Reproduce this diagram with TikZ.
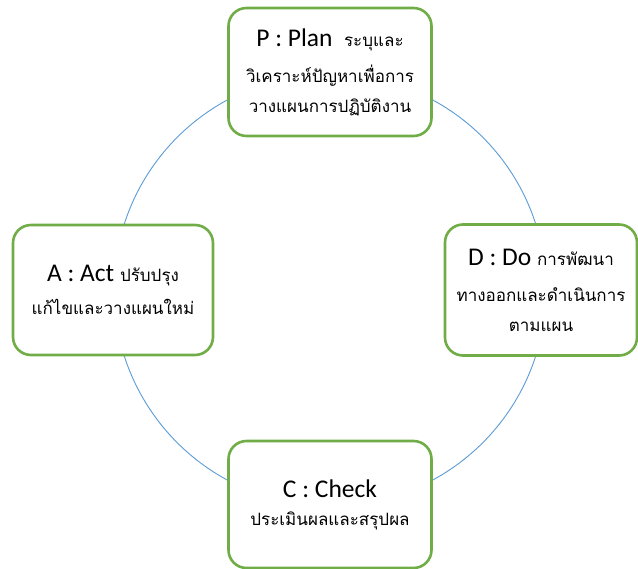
\documentclass[tikz,border=0pt]{standalone}
\usepackage{fontspec}
\setmainfont{Carlito}
\newfontfamily\thaifont[Script=Thai]{Loma}
\usetikzlibrary{positioning}
\definecolor{pdcagreen}{HTML}{70AD47}
\definecolor{pdcablue}{HTML}{5B9BD5}
\newcommand{\thtext}[1]{{\thaifont\fontsize{17}{30}\selectfont #1}}

\begin{document}
\begin{tikzpicture}[x=1pt, y=1pt]
    % Styles
    \tikzstyle{phase} = [rectangle, draw=pdcagreen, line width=2.6pt, fill=white, rounded corners=18pt, align=center, inner sep=0pt, font=\fontsize{25.5}{30}\selectfont]
    \tikzstyle{cycle} = [draw=pdcablue, line width=0.9pt]

    \useasboundingbox (0,0) rectangle (638,-569);

    % Cycle
    \coordinate (hub) at (330,-290);
    \draw [cycle] (hub) circle (216pt);

    % Nodes
    \node [phase, above of=hub, node distance=218pt, minimum width=203pt, minimum height=128pt] (plan) {P : Plan\ \ \thtext{ระบุและ}\\[6pt] \thtext{วิเคราะห์ปัญหาเพื่อการ}\\ \thtext{วางแผนการปฏิบัติงาน}};
    \node [phase, right of=hub, node distance=211pt, minimum width=192pt, minimum height=131pt] (do) {D : Do \thtext{การพัฒนา}\\[6pt] \thtext{ทางออกและดำเนินการ}\\ \thtext{ตามแผน}};
    \node [phase, below of=hub, node distance=214.5pt, minimum width=203pt, minimum height=127pt] (check) {C : Check\\[-2pt] \thtext{ประเมินผลและสรุปผล}};
    \node [phase, left of=hub, node distance=217pt, minimum width=200pt, minimum height=130pt] (act) {A : Act \thtext{ปรับปรุง}\\[3pt] \thtext{แก้ไขและวางแผนใหม่}};

\end{tikzpicture}
\end{document}
